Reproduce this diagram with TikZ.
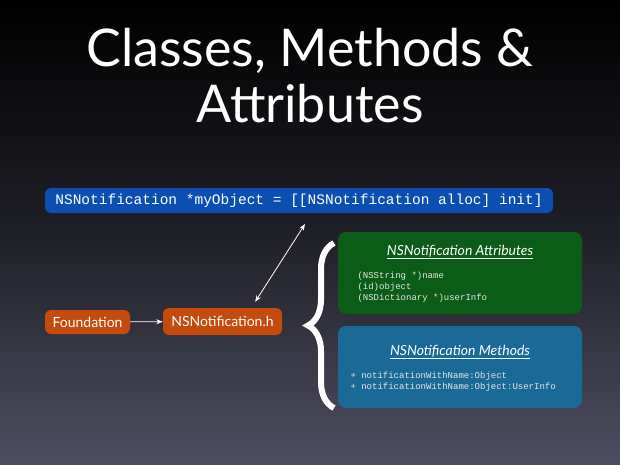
\documentclass[tikz,border=0pt]{standalone}
\usepackage{fontspec}
\setmainfont{Lato}
\setmonofont{Liberation Mono}
\usetikzlibrary{arrows.meta}
\usetikzlibrary{positioning}
\usetikzlibrary{decorations.pathreplacing}
\definecolor{bartop}{HTML}{000000}
\definecolor{barbot}{HTML}{4E4E62}
\definecolor{codeblue}{HTML}{0B4FB0}
\definecolor{rust}{HTML}{C44A0E}
\definecolor{attrgreen}{HTML}{0B5C16}
\definecolor{methblue}{HTML}{1A6A98}
\begin{document}
\begin{tikzpicture}[x=1pt,y=-1pt, >= Stealth,
  pill/.style ={rounded corners=6pt,draw=none,text=white,font=\fontsize{14}{16}\selectfont,inner sep=0pt},
  panel/.style ={rounded corners=8pt,minimum width=244pt,minimum height=82pt,inner sep=0pt},
  heading/.style ={text=white,font=\itshape\fontsize{14}{16}\selectfont},
  code/.style ={text=white!80!gray,font=\ttfamily\fontsize{9}{11}\selectfont,align=left}]
\shade[top color=bartop,bottom color=barbot,middle color=bartop!60!barbot] (0,0) rectangle (620,465);
\useasboundingbox (0,0) rectangle (620,465);
\node[text=white,font=\fontsize{52}{56}\selectfont,align=center] (title) at (310,76) {Classes, Methods \&\\Attributes};
\node[pill, fill=codeblue, minimum width=508pt, minimum height=25pt, font=\ttfamily\fontsize{14.5}{16}\selectfont] (alloc) at (299,200.5) {NSNotification *myObject = [[NSNotification alloc] init]};
\node[pill, fill=rust, minimum width=85pt, minimum height=24pt] (found) at (87.5,322) {Foundation};
\node[pill, fill=rust, minimum width=119pt, minimum height=27pt] (header) at (222.5,321.5) {NSNotification.h};
\node[panel, fill=attrgreen] (attr) at (460,273) {};
\node[panel, fill=methblue] (meth) at (460,367) {};
\node[heading] (attrtitle) at (460,252) {\underline{NSNotification Attributes}};
\node[code, anchor=north west] (attrlist) at (354,268) {(NSString *)name\\(id)object\\(NSDictionary *)userInfo};
\node[heading] (methtitle) at (460,352) {\underline{NSNotification Methods}};
\node[code, anchor=north west] (methlist) at (347,368) {+ notificationWithName:Object\\+ notificationWithName:Object:UserInfo};
\coordinate (up) at (305,224);
\coordinate (braceTop) at (334,243);
\coordinate (braceBot) at (334,408);
\path[->, white, thick]
		(found) edge (header);
\draw[<->, white, thick] (header.north east) ++(-27,-6) -- (up);
\draw[white, line width=6pt, decorate, decoration={brace, amplitude=26pt}] (braceBot) -- (braceTop);
\end{tikzpicture}
\end{document}
